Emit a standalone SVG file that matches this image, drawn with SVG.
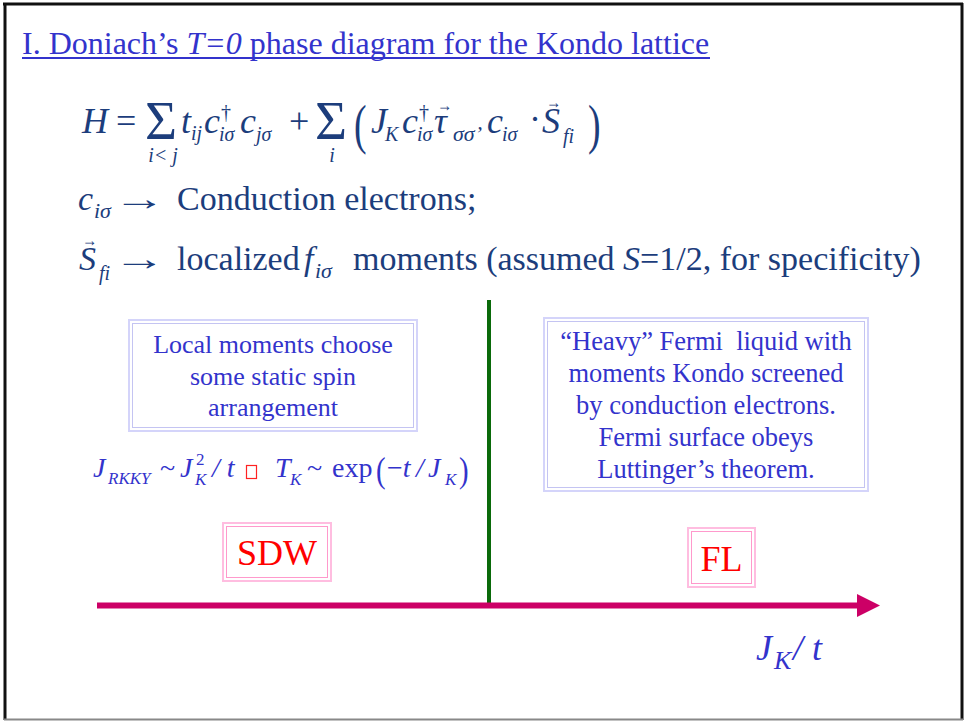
<svg xmlns="http://www.w3.org/2000/svg" width="964" height="721" viewBox="0 0 964 721" font-family="'Liberation Serif', 'Times New Roman', Times, serif">
<style>
text{font-family:"Liberation Serif","Times New Roman",Times,serif}
.eq{fill:#1c3d7c}
.it{font-style:italic}
.b{fill:#3333cc}
.r{fill:#ff0000}
.lav1{fill:none;stroke:#d4d4fa;stroke-width:2}
.lav2{fill:none;stroke:#c4c4f2;stroke-width:1}
.pk1{fill:none;stroke:#ffbde0;stroke-width:2}
.pk2{fill:none;stroke:#ff99cc;stroke-width:1}
</style>
<rect width="964" height="721" fill="#ffffff"/>
<g id="frame">
<line x1="3" y1="4" x2="963" y2="4" stroke="#111" stroke-width="3"/>
<line x1="5" y1="3" x2="5" y2="720" stroke="#111" stroke-width="3"/>
<line x1="962" y1="3" x2="962" y2="720" stroke="#111" stroke-width="3"/>
<line x1="4" y1="719.5" x2="963" y2="719.5" stroke="#888" stroke-width="2"/>
</g>
<g id="title">
<text x="22" y="54" font-size="32" class="b">I. Doniach’s <tspan class="it">T=0</tspan> phase diagram for the Kondo lattice</text>
<line x1="22" y1="58" x2="710" y2="58" stroke="#3333cc" stroke-width="2"/>
</g>
<g id="hamiltonian" class="eq">
<text x="82" y="133" font-size="36" class="it">H</text>
<text x="116" y="133" font-size="36">=</text>
<text x="145" y="139" font-size="55">Σ</text>
<text x="163" y="162" font-size="20" class="it" text-anchor="middle">i&lt; j</text>
<text x="181" y="133" font-size="36" class="it">t</text>
<text x="191" y="140" font-size="20" class="it">ij</text>
<text x="204" y="133" font-size="36" class="it">c</text>
<text x="221" y="119" font-size="20">†</text>
<text x="219" y="141" font-size="20" class="it">iσ</text>
<text x="240" y="133" font-size="36" class="it">c</text>
<text x="256" y="141" font-size="20" class="it">jσ</text>
<text x="289" y="133" font-size="36">+</text>
<text x="315" y="139" font-size="55">Σ</text>
<text x="332" y="162" font-size="20" class="it" text-anchor="middle">i</text>
<text x="354" y="143" font-size="54" transform="translate(354 143) scale(0.7 1) translate(-354 -143)">(</text>
<text x="371" y="133" font-size="36" class="it">J</text>
<text x="385" y="141" font-size="20" class="it">K</text>
<text x="402" y="133" font-size="36" class="it">c</text>
<text x="419" y="119" font-size="20">†</text>
<text x="417" y="141" font-size="20" class="it">iσ</text>
<text x="434" y="133" font-size="36" class="it">τ</text>
<text x="437" y="111" font-size="18" textLength="15" lengthAdjust="spacingAndGlyphs">→</text>
<text x="453" y="141" font-size="22" class="it">σσ’</text>
<text x="487" y="133" font-size="36" class="it">c</text>
<text x="502" y="141" font-size="20" class="it">iσ</text>
<text x="529" y="131" font-size="36">·</text>
<text x="542" y="133" font-size="36" class="it">S</text>
<text x="546" y="108" font-size="18" textLength="15" lengthAdjust="spacingAndGlyphs">→</text>
<text x="563" y="143" font-size="20" class="it">fi</text>
<text x="588" y="143" font-size="54" transform="translate(588 143) scale(0.7 1) translate(-588 -143)">)</text>
</g>
<g id="line-c" class="eq">
<text x="78" y="210" font-size="34" class="it">c</text>
<text x="94" y="218" font-size="22" class="it">iσ</text>
<text x="113" y="210" font-size="34" transform="translate(113 0) scale(1.55 1) translate(-113 0)">→</text>
<text x="177" y="210" font-size="34">Conduction electrons;</text>
</g>
<g id="line-s" class="eq">
<text x="79" y="270" font-size="34" class="it">S</text>
<text x="82" y="246" font-size="18" textLength="15" lengthAdjust="spacingAndGlyphs">→</text>
<text x="99" y="280" font-size="20" class="it">fi</text>
<text x="113" y="270" font-size="34" transform="translate(113 0) scale(1.55 1) translate(-113 0)">→</text>
<text x="177" y="270" font-size="34">localized</text>
<text x="304" y="270" font-size="34" class="it">f</text>
<text x="315" y="278" font-size="22" class="it">iσ</text>
<text x="353" y="270" font-size="34">moments (assumed <tspan class="it">S</tspan>=1/2, for specificity)</text>
</g>
<g id="boundary">
<line x1="489" y1="300" x2="489" y2="606" stroke="#0a6a0a" stroke-width="4"/>
</g>
<g id="local-box">
<rect class="lav1" x="129" y="320" width="288" height="111"/>
<rect class="lav2" x="132.5" y="323.5" width="281" height="104"/>
<text x="273" y="353" font-size="26" class="b" text-anchor="middle">Local moments choose</text>
<text x="273" y="385" font-size="26" class="b" text-anchor="middle">some static spin</text>
<text x="273" y="416" font-size="26" class="b" text-anchor="middle">arrangement</text>
</g>
<g id="rkky" class="b">
<text x="93" y="477" font-size="28" class="it">J</text>
<text x="108" y="484" font-size="17" class="it">RKKY</text>
<text x="160" y="477" font-size="28">~</text>
<text x="180" y="477" font-size="28" class="it">J</text>
<text x="196" y="465" font-size="17">2</text>
<text x="195" y="485" font-size="17" class="it">K</text>
<text x="212" y="477" font-size="28" class="it">/ t</text>
<rect x="246.5" y="465.5" width="10" height="13" fill="none" stroke="#ff2222" stroke-width="1.2"/>
<text x="275" y="477" font-size="28" class="it">T</text>
<text x="290" y="485" font-size="17" class="it">K</text>
<text x="307" y="477" font-size="28">~</text>
<text x="332" y="477" font-size="28">exp</text>
<text x="376" y="482" font-size="36" transform="translate(376 482) scale(0.8 1) translate(-376 -482)">(</text>
<text x="387" y="477" font-size="28">−<tspan class="it">t</tspan></text>
<text x="416" y="477" font-size="28" class="it">/</text>
<text x="428" y="477" font-size="28" class="it">J</text>
<text x="445" y="485" font-size="17" class="it">K</text>
<text x="459" y="482" font-size="36" transform="translate(459 482) scale(0.8 1) translate(-459 -482)">)</text>
</g>
<g id="fl-box">
<rect class="lav1" x="544" y="318" width="324" height="173"/>
<rect class="lav2" x="547.5" y="321.5" width="317" height="166"/>
<text x="706" y="350" font-size="26.5" class="b" text-anchor="middle" xml:space="preserve">“Heavy” Fermi  liquid with</text>
<text x="706" y="382" font-size="26.5" class="b" text-anchor="middle">moments Kondo screened</text>
<text x="706" y="414" font-size="26.5" class="b" text-anchor="middle">by conduction electrons.</text>
<text x="706" y="446" font-size="26.5" class="b" text-anchor="middle">Fermi surface obeys</text>
<text x="706" y="478" font-size="26.5" class="b" text-anchor="middle">Luttinger’s theorem.</text>
</g>
<g id="sdw">
<rect class="pk1" x="223" y="523" width="108" height="58"/>
<rect class="pk2" x="226.5" y="526.5" width="101" height="51"/>
<text x="277" y="565" font-size="36" class="r" text-anchor="middle">SDW</text>
</g>
<g id="fl">
<rect class="pk1" x="688" y="528" width="67" height="59"/>
<rect class="pk2" x="691.5" y="531.5" width="60" height="52"/>
<text x="721.5" y="571" font-size="36" class="r" text-anchor="middle">FL</text>
</g>
<g id="axis">
<line x1="97" y1="605.5" x2="860" y2="605.5" stroke="#cc0066" stroke-width="6"/>
<polygon points="857,594 880,605.5 857,617" fill="#cc0066"/>
<text x="756" y="660" font-size="36" class="b it">J</text>
<text x="774" y="669" font-size="26" class="b it">K</text>
<text x="793" y="660" font-size="36" class="b it">/ t</text>
</g>
</svg>
